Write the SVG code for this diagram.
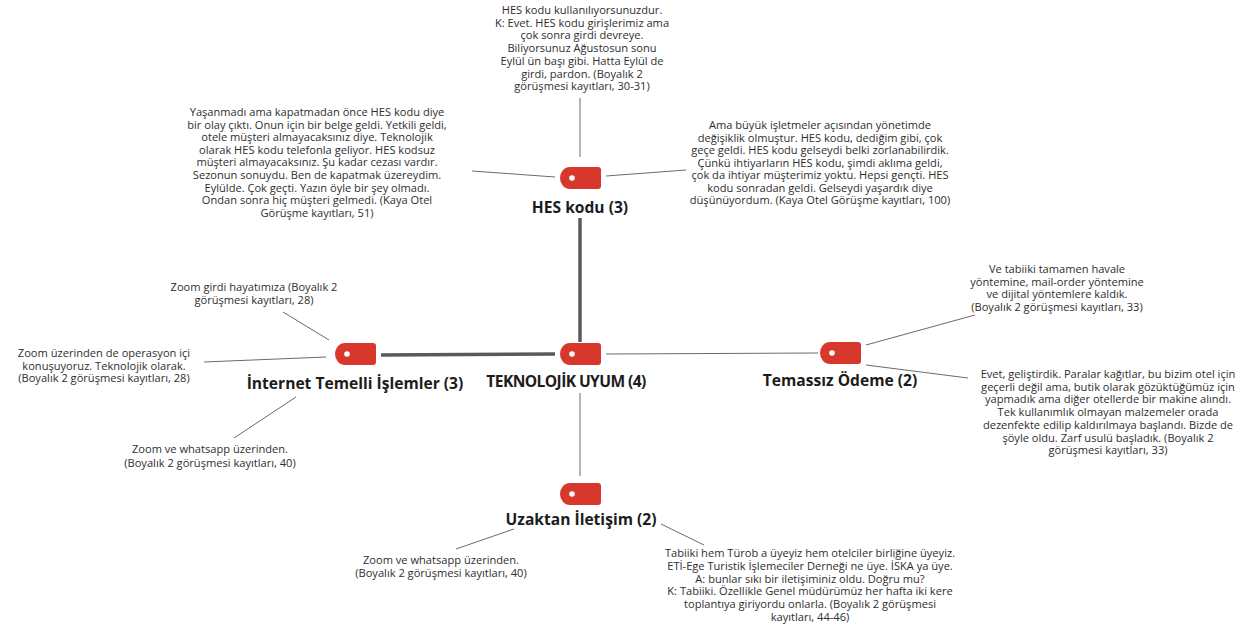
<svg xmlns="http://www.w3.org/2000/svg" xmlns:xlink="http://www.w3.org/1999/xlink" width="1258" height="625" viewBox="0 0 1258 625">
  <style>
    .note { font-family: "Open Sans", "Noto Sans", "DejaVu Sans", sans-serif; font-size: 11.1px; fill: #2e2e2e; text-anchor: middle; }
    .label { font-family: "Open Sans", "Noto Sans", "DejaVu Sans", sans-serif; font-size: 15.6px; font-weight: bold; fill: #1c1c1c; text-anchor: middle; }
    .caps { letter-spacing: -0.6px; }
    .thin { stroke: #6a6a6a; stroke-width: 1; fill: none; }
    .thick { stroke: #5a5a5a; stroke-width: 3.5; fill: none; }
  </style>
  <defs>
    <!-- tag-shaped node marker: rounded left end, square-ish right end, white hole -->
    <g id="tag">
      <path d="M10,0 H38 A3,3 0 0 1 41,3 V19 A3,3 0 0 1 38,22 H10 A10,11 0 0 1 0,11 A10,11 0 0 1 10,0 Z" fill="#d8382c"/>
      <circle cx="12" cy="11" r="2.8" fill="#ffffff"/>
    </g>
  </defs>
  <rect width="1258" height="625" fill="#ffffff"/>

  <!-- connectors -->
  <g id="connectors">
    <line class="thick" x1="580" y1="218" x2="580" y2="342"/>
    <line class="thick" x1="381" y1="355" x2="555" y2="354"/>
    <line class="thin" x1="606" y1="354" x2="818" y2="353"/>
    <line class="thin" x1="580" y1="393" x2="580" y2="476"/>
    <line class="thin" x1="580" y1="98" x2="580" y2="157"/>
    <line class="thin" x1="472" y1="171" x2="555" y2="177"/>
    <line class="thin" x1="606" y1="176" x2="686" y2="170"/>
    <line class="thin" x1="283" y1="312" x2="329" y2="340"/>
    <line class="thin" x1="204" y1="362" x2="326" y2="357"/>
    <line class="thin" x1="296" y1="397" x2="234" y2="438"/>
    <line class="thin" x1="866" y1="345" x2="975" y2="315"/>
    <line class="thin" x1="866" y1="365" x2="968" y2="378"/>
    <line class="thin" x1="514" y1="529" x2="456" y2="549"/>
    <line class="thin" x1="661" y1="524" x2="704" y2="545"/>
  </g>

  <!-- central node -->
  <g id="node-teknolojik-uyum">
    <use xlink:href="#tag" x="560" y="343"/>
    <text class="label caps" x="566" y="387">TEKNOLOJİK UYUM (4)</text>
  </g>

  <!-- HES kodu -->
  <g id="node-hes-kodu">
    <use xlink:href="#tag" x="560" y="167"/>
    <text class="label" x="580" y="213">HES kodu (3)</text>
  </g>
  <g id="note-hes-top">
    <text class="note" x="582" y="14">HES kodu kullanılıyorsunuzdur.</text>
    <text class="note" x="582" y="26.7">K: Evet. HES kodu girişlerimiz ama</text>
    <text class="note" x="582" y="39.4">çok sonra girdi devreye.</text>
    <text class="note" x="582" y="52.1">Biliyorsunuz Ağustosun sonu</text>
    <text class="note" x="582" y="64.8">Eylül ün başı gibi. Hatta Eylül de</text>
    <text class="note" x="582" y="77.5">girdi, pardon. (Boyalık 2</text>
    <text class="note" x="582" y="90.2">görüşmesi kayıtları, 30-31)</text>
  </g>
  <g id="note-hes-left">
    <text class="note" x="317" y="116">Yaşanmadı ama kapatmadan önce HES kodu diye</text>
    <text class="note" x="317" y="128.6">bir olay çıktı. Onun için bir belge geldi. Yetkili geldi,</text>
    <text class="note" x="317" y="141.2">otele müşteri almayacaksınız diye. Teknolojik</text>
    <text class="note" x="317" y="153.8">olarak HES kodu telefonla geliyor. HES kodsuz</text>
    <text class="note" x="317" y="166.4">müşteri almayacaksınız. Şu kadar cezası vardır.</text>
    <text class="note" x="317" y="179">Sezonun sonuydu. Ben de kapatmak üzereydim.</text>
    <text class="note" x="317" y="191.6">Eylülde. Çok geçti. Yazın öyle bir şey olmadı.</text>
    <text class="note" x="317" y="204.2">Ondan sonra hiç müşteri gelmedi. (Kaya Otel</text>
    <text class="note" x="317" y="216.8">Görüşme kayıtları, 51)</text>
  </g>
  <g id="note-hes-right">
    <text class="note" x="820" y="129">Ama büyük işletmeler açısından yönetimde</text>
    <text class="note" x="820" y="141.5">değişiklik olmuştur. HES kodu, dediğim gibi, çok</text>
    <text class="note" x="820" y="154">geçe geldi. HES kodu gelseydi belki zorlanabilirdik.</text>
    <text class="note" x="820" y="166.5">Çünkü ihtiyarların HES kodu, şimdi aklıma geldi,</text>
    <text class="note" x="820" y="179">çok da ihtiyar müşterimiz yoktu. Hepsi gençti. HES</text>
    <text class="note" x="820" y="191.5">kodu sonradan geldi. Gelseydi yaşardık diye</text>
    <text class="note" x="820" y="204">düşünüyordum. (Kaya Otel Görüşme kayıtları, 100)</text>
  </g>

  <!-- İnternet Temelli İşlemler -->
  <g id="node-internet">
    <use xlink:href="#tag" x="335" y="343"/>
    <text class="label" x="355" y="389">İnternet Temelli İşlemler (3)</text>
  </g>
  <g id="note-internet-1">
    <text class="note" x="254" y="291">Zoom girdi hayatımıza (Boyalık 2</text>
    <text class="note" x="254" y="304">görüşmesi kayıtları, 28)</text>
  </g>
  <g id="note-internet-2">
    <text class="note" x="104" y="357">Zoom üzerinden de operasyon içi</text>
    <text class="note" x="104" y="369.5">konuşuyoruz. Teknolojik olarak.</text>
    <text class="note" x="104" y="382">(Boyalık 2 görüşmesi kayıtları, 28)</text>
  </g>
  <g id="note-internet-3">
    <text class="note" x="210" y="453">Zoom ve whatsapp üzerinden.</text>
    <text class="note" x="210" y="466.5">(Boyalık 2 görüşmesi kayıtları, 40)</text>
  </g>

  <!-- Temassız Ödeme -->
  <g id="node-temassiz">
    <use xlink:href="#tag" x="820" y="342"/>
    <text class="label" x="840" y="386">Temassız Ödeme (2)</text>
  </g>
  <g id="note-temassiz-1">
    <text class="note" x="1057" y="273">Ve tabiiki tamamen havale</text>
    <text class="note" x="1057" y="285.6">yöntemine, mail-order yöntemine</text>
    <text class="note" x="1057" y="298.2">ve dijital yöntemlere kaldık.</text>
    <text class="note" x="1057" y="310.8">(Boyalık 2 görüşmesi kayıtları, 33)</text>
  </g>
  <g id="note-temassiz-2">
    <text class="note" x="1108" y="378">Evet, geliştirdik. Paralar kağıtlar, bu bizim otel için</text>
    <text class="note" x="1108" y="390.7">geçerli değil ama, butik olarak gözüktüğümüz için</text>
    <text class="note" x="1108" y="403.4">yapmadık ama diğer otellerde bir makine alındı.</text>
    <text class="note" x="1108" y="416.1">Tek kullanımlık olmayan malzemeler orada</text>
    <text class="note" x="1108" y="428.8">dezenfekte edilip kaldırılmaya başlandı. Bizde de</text>
    <text class="note" x="1108" y="441.5">şöyle oldu. Zarf usulü başladık. (Boyalık 2</text>
    <text class="note" x="1108" y="454.2">görüşmesi kayıtları, 33)</text>
  </g>

  <!-- Uzaktan İletişim -->
  <g id="node-uzaktan">
    <use xlink:href="#tag" x="560" y="483"/>
    <text class="label" x="581" y="525">Uzaktan İletişim (2)</text>
  </g>
  <g id="note-uzaktan-1">
    <text class="note" x="441" y="564">Zoom ve whatsapp üzerinden.</text>
    <text class="note" x="441" y="577">(Boyalık 2 görüşmesi kayıtları, 40)</text>
  </g>
  <g id="note-uzaktan-2">
    <text class="note" x="810" y="557">Tabiiki hem Türob a üyeyiz hem otelciler birliğine üyeyiz.</text>
    <text class="note" x="810" y="569.8">ETİ-Ege Turistik İşlemeciler Derneği ne üye. İSKA ya üye.</text>
    <text class="note" x="810" y="582.6">A: bunlar sıkı bir iletişiminiz oldu. Doğru mu?</text>
    <text class="note" x="810" y="595.4">K: Tabiiki. Özellikle Genel müdürümüz her hafta iki kere</text>
    <text class="note" x="810" y="608.2">toplantıya giriyordu onlarla. (Boyalık 2 görüşmesi</text>
    <text class="note" x="810" y="621">kayıtları, 44-46)</text>
  </g>
</svg>
